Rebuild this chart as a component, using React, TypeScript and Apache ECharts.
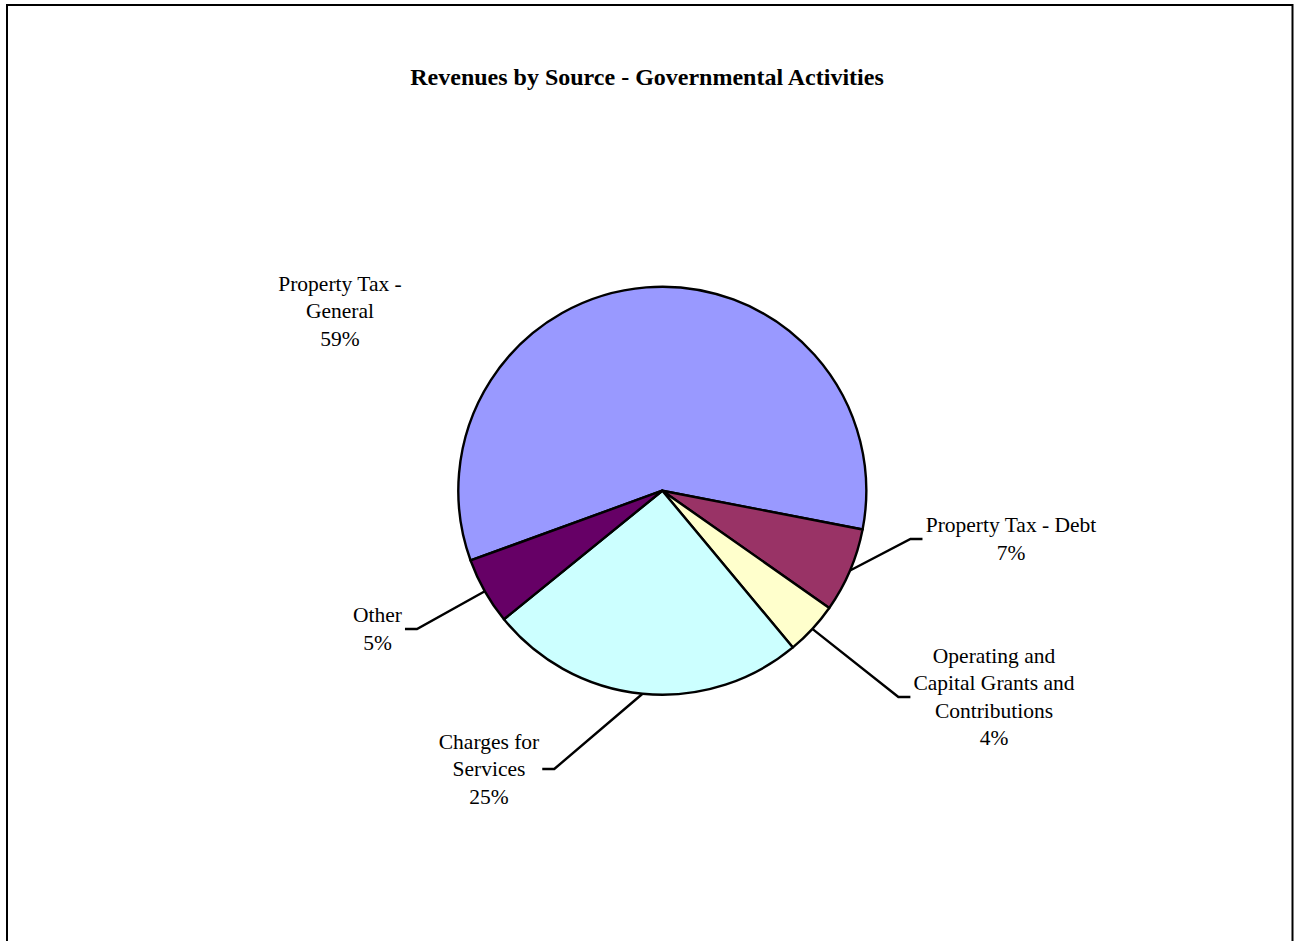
import React, { useEffect, useRef } from 'react';
import * as echarts from 'echarts';

const chartTitle = 'Revenues by Source - Governmental Activities';
const categories = [
  'Property Tax - General',
  'Property Tax - Debt',
  'Operating and Capital Grants and Contributions',
  'Charges for Services',
  'Other',
];
const labelTexts = [
  'Property Tax -\nGeneral',
  'Property Tax - Debt',
  'Operating and\nCapital Grants and\nContributions',
  'Charges for\nServices',
  'Other',
];
const shares = [58.6, 6.7, 4.2, 25.2, 5.3];
const sliceColors = ['#9999FF', '#993366', '#FFFFCC', '#CCFFFF', '#660066'];

// label placement (page pixels) — layout only
const labelAnchors: number[][] = [
  [340, 311],
  [1011, 539],
  [994, 697],
  [489, 769],
  [377.5, 629],
];
const leaderLength2 = 12;
const leaderGap = 3;

export default function App() {
  const ref = useRef<HTMLDivElement>(null);
  useEffect(() => {
    if (!ref.current) return;
    const chart = echarts.init(ref.current, undefined, { renderer: 'svg' });
    const serif = 'Liberation Serif, Times New Roman, serif';
    chart.setOption({
      animation: false,
      backgroundColor: '#ffffff',
      title: {
        text: chartTitle,
        left: 'center',
        top: 65,
        padding: 0,
        textStyle: {
          fontFamily: serif,
          fontWeight: 'bold',
          fontSize: 24,
          lineHeight: 24,
          color: '#000000',
        },
      },
      graphic: [
        {
          type: 'rect',
          silent: true,
          z: -1,
          shape: { x: 7, y: 5, width: 1285.5, height: 960 },
          style: { fill: 'none', stroke: '#000000', lineWidth: 2 },
        },
      ],
      series: [
        {
          type: 'pie',
          center: [662.3, 490.7],
          radius: 204,
          startAngle: 200,
          clockwise: true,
          avoidLabelOverlap: false,
          emphasis: { disabled: true },
          itemStyle: { borderColor: '#000000', borderWidth: 2.4 },
          label: {
            show: true,
            position: 'outside',
            formatter: (p: any) => `${labelTexts[p.dataIndex]}\n${Math.round(p.percent)}%`,
            fontFamily: serif,
            fontSize: 21.5,
            lineHeight: 27.5,
            color: '#000000',
          },
          labelLine: {
            show: true,
            length: 20,
            length2: 12,
            lineStyle: { color: '#000000', width: 2.4 },
          },
          labelLayout: (p: any) => {
            const i = p.dataIndex;
            const [x, y] = labelAnchors[i];
            const out: any = { x, y, align: 'center', verticalAlign: 'middle' };
            if (p.labelLinePoints && p.labelLinePoints.length) {
              const start = p.labelLinePoints[0];
              const side = start[0] < x ? 1 : -1;
              const halfW = p.labelRect.width / 2;
              const endX = side > 0 ? x - halfW - leaderGap : x + halfW + leaderGap;
              const elbowX = endX - side * leaderLength2;
              out.labelLinePoints = [start, [elbowX, y], [endX, y]];
            }
            return out;
          },
          data: categories.map((name, i) => ({
            name,
            value: shares[i],
            itemStyle: { color: sliceColors[i] },
            labelLine: i === 0 ? { show: false } : undefined,
          })),
        },
      ],
    });
    return () => chart.dispose();
  }, []);
  return (
    <div
      ref={ref}
      style={{ position: 'absolute', left: 0, top: 0, width: 1294, height: 941 }}
    />
  );
}
